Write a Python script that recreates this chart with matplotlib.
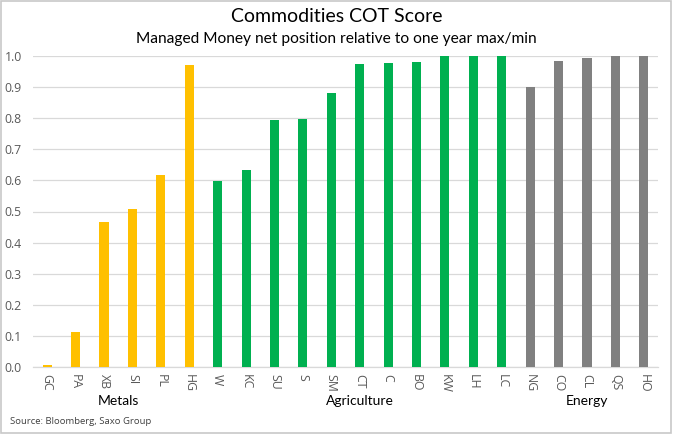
import matplotlib
matplotlib.use("Agg")
import matplotlib.pyplot as plt
from matplotlib.patches import Rectangle
import matplotlib.transforms as mtransforms

categories = ["GC", "PA", "XB", "SI", "PL", "HG",
              "W", "KC", "SU", "S", "SM", "CT", "C", "BO", "KW", "LH", "LC",
              "NG", "CO", "CL", "QS", "HO"]
values = [0.006, 0.113, 0.466, 0.508, 0.617, 0.972,
          0.598, 0.633, 0.795, 0.798, 0.880, 0.974, 0.977, 0.980, 0.999, 1.0, 1.0,
          0.900, 0.983, 0.995, 1.0, 1.0]
groups = ["Metals"] * 6 + ["Agriculture"] * 11 + ["Energy"] * 5
group_names = ["Metals", "Agriculture", "Energy"]
group_colors = {"Metals": "#FFC000", "Agriculture": "#00B050", "Energy": "#808080"}
yticks = [0.0, 0.1, 0.2, 0.3, 0.4, 0.5, 0.6, 0.7, 0.8, 0.9, 1.0]

W, H = 673, 434
fig = plt.figure(figsize=(W / 100, H / 100), dpi=100)
ax = fig.add_axes([33 / W, 1 - 367 / H, (658 - 33) / W, (367 - 56) / H])

x = list(range(len(categories)))
colors = [group_colors[g] for g in groups]
ax.bar(x, values, width=0.32, color=colors, zorder=3)

ax.set_xlim(-0.5, len(categories) - 0.5)
ax.set_ylim(0, 1.0)
ax.set_yticks(yticks)
ax.set_yticklabels([f"{t:.1f}" for t in yticks], fontfamily="Open Sans",
                   fontsize=8.8, color="#595959")
ax.set_xticks(x)
ax.set_xticklabels(categories, rotation=-90, fontfamily="Open Sans",
                   fontsize=8.8, color="#595959")
ax.tick_params(axis="y", length=0, pad=8)
ax.tick_params(axis="x", length=0, pad=5)
ax.grid(axis="y", color="#D9D9D9", linewidth=0.9, zorder=0)
for s in ["top", "right", "left"]:
    ax.spines[s].set_visible(False)
ax.spines["bottom"].set_color("#D9D9D9")
ax.spines["bottom"].set_linewidth(0.9)

# group labels
trans = mtransforms.blended_transform_factory(ax.transData, fig.transFigure)
for g in group_names:
    idx = [i for i, gg in enumerate(groups) if gg == g]
    cx = (idx[0] + idx[-1]) / 2
    ax.text(cx, 1 - 401 / H, g, transform=trans, ha="center",
            va="center", fontsize=10, fontfamily="Lato", color="#000000")

fig.text(0.5, 1 - 17 / H, "Commodities COT Score", ha="center", va="center",
         fontsize=14, fontfamily="Lato", color="#000000")
fig.text(0.5, 1 - 39 / H, "Managed Money net position relative to one year max/min",
         ha="center", va="center", fontsize=11.2, fontfamily="Lato", color="#000000")
fig.text(10 / W, 1 - 422 / H, "Source: Bloomberg, Saxo Group", ha="left",
         va="center", fontsize=6.8, fontfamily="Open Sans", color="#404040")

fig.patches.append(Rectangle((0.002, 0.003), 0.995, 0.994, transform=fig.transFigure,
                             fill=False, edgecolor="#C8C8C8", linewidth=1.2))

fig.savefig("out.png", dpi=100, facecolor="white")
